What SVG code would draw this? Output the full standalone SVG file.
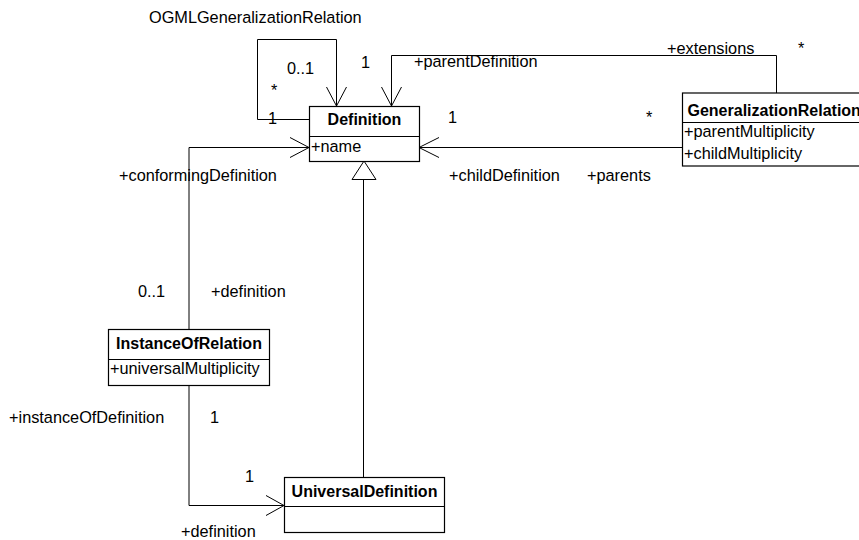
<svg xmlns="http://www.w3.org/2000/svg" width="859" height="540" viewBox="0 0 859 540">
<style>
text{font-family:"Liberation Sans",Arial,sans-serif;font-size:16.3px;fill:#000}
.b{font-weight:bold;font-size:16px}
.c{text-anchor:middle}
.box{fill:#fff;stroke:#000;stroke-width:1.2}
.ln{fill:none;stroke:#000;stroke-width:1}
.ah{fill:none;stroke:#000;stroke-width:1}
</style>
<rect width="859" height="540" fill="#fff"/>
<g id="connectors">
<path class="ln" d="M309.5 119.5H257.5V39.5H336.5V106"/>
<path class="ah" d="M326.5 87L336.5 106L346.5 87"/>
<path class="ln" d="M776.5 93V55.5H391.5V106"/>
<path class="ah" d="M381.5 87L391.5 106L401.5 87"/>
<path class="ln" d="M682 147.5H419"/>
<path class="ah" d="M439 137.5L419 147.5L439 157.5"/>
<path class="ln" d="M189 329V147.5H309"/>
<path class="ah" d="M290 137.5L309 147.5L290 157.5"/>
<path class="ln" d="M189 385V505.5H284"/>
<path class="ah" d="M266 495.5L284 505.5L266 515.5"/>
<path class="ln" d="M363.5 477V179.5"/>
<path fill="#fff" stroke="#000" stroke-width="1" d="M364 161L352 179.5H376Z"/>
</g>
<g id="Definition">
<rect class="box" x="309.5" y="106.5" width="110" height="55"/>
<line class="ln" x1="309.5" y1="136.5" x2="419.5" y2="136.5"/>
<text class="b c" x="364.5" y="125">Definition</text>
<text x="311" y="152">+name</text>
</g>
<g id="GeneralizationRelation">
<rect class="box" x="682.5" y="93" width="200" height="73"/>
<line class="ln" x1="682.5" y1="122.5" x2="882" y2="122.5"/>
<text class="b" x="687.5" y="116">GeneralizationRelation</text>
<text x="684" y="137">+parentMultiplicity</text>
<text x="684" y="159">+childMultiplicity</text>
</g>
<g id="InstanceOfRelation">
<rect class="box" x="108.5" y="329.5" width="161" height="56"/>
<line class="ln" x1="108.5" y1="359.5" x2="269.5" y2="359.5"/>
<text class="b c" x="189" y="349">InstanceOfRelation</text>
<text x="110" y="374">+universalMultiplicity</text>
</g>
<g id="UniversalDefinition">
<rect class="box" x="284.5" y="477.5" width="160" height="55"/>
<line class="ln" x1="284.5" y1="506.5" x2="444.5" y2="506.5"/>
<text class="b c" x="364.5" y="497">UniversalDefinition</text>
</g>
<g id="labels">
<text x="149" y="22.5">OGMLGeneralizationRelation</text>
<text x="287" y="74">0..1</text>
<text x="271" y="96">*</text>
<text x="268" y="124">1</text>
<text x="361" y="68">1</text>
<text x="414" y="67">+parentDefinition</text>
<text x="667" y="54">+extensions</text>
<text x="798" y="54">*</text>
<text x="448" y="123">1</text>
<text x="646" y="123">*</text>
<text x="449" y="181">+childDefinition</text>
<text x="587" y="181">+parents</text>
<text x="119" y="181">+conformingDefinition</text>
<text x="138" y="297">0..1</text>
<text x="211" y="297">+definition</text>
<text x="9" y="423">+instanceOfDefinition</text>
<text x="210" y="423">1</text>
<text x="245" y="482">1</text>
<text x="181" y="537">+definition</text>
</g>
</svg>
